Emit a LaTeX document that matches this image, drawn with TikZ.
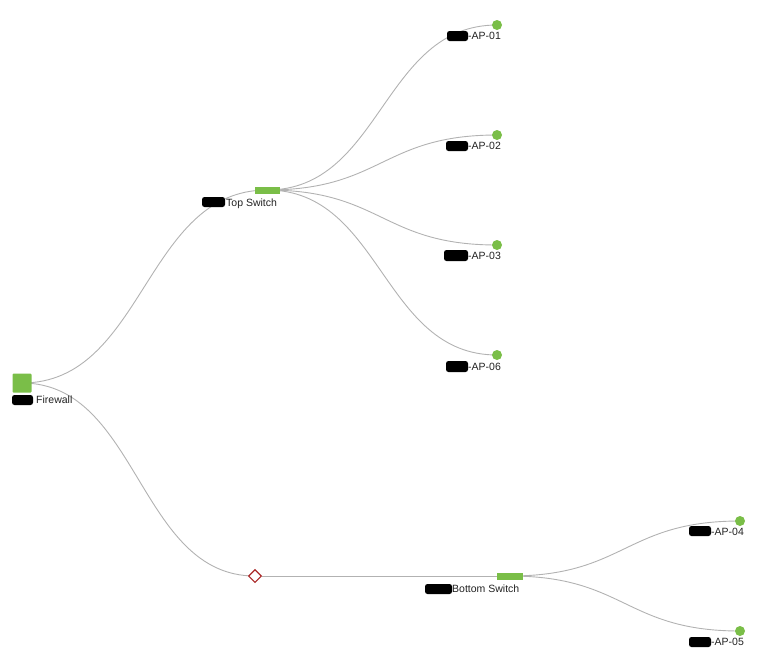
\documentclass[tikz,border=0pt]{standalone}
\usepackage{fontspec}
\setmainfont{Liberation Sans}
\usetikzlibrary{calc,backgrounds,shapes.geometric}
\definecolor{nodegreen}{RGB}{122,190,72}
\definecolor{linkgray}{RGB}{178,178,178}
\definecolor{diared}{RGB}{170,40,40}
\definecolor{txt}{RGB}{34,34,34}
\tikzset{
  link/.style={draw=linkgray,line width=0.9pt},
  fwbox/.style={fill=nodegreen,draw=none,minimum width=19pt,minimum height=19pt,inner sep=0pt,rectangle,rounded corners=1pt},
  swbox/.style={fill=nodegreen,draw=none,minimum width=25pt,minimum height=7pt,inner sep=0pt,rectangle},
  apdot/.style={fill=nodegreen,draw=none,circle,minimum size=10pt,inner sep=0pt},
  junction/.style={diamond,draw=diared,fill=white,line width=1.1pt,minimum width=13pt,minimum height=13pt,inner sep=0pt},
  lbl/.style={font=\fontsize{10.5}{12}\selectfont,text=txt,inner sep=0pt,anchor=base west},
  blob/.style={fill=black,rounded corners=2.5pt}
}
\newcommand\treelink[2]{%
  \draw[link] let \p1=(#1.center), \p2=(#2.center) in
    (\p1) .. controls ({(\x1+\x2)/2},\y1) and ({(\x1+\x2)/2},\y2) .. (\p2);}
\begin{document}
\begin{tikzpicture}[x=1pt,y=-1pt]
\useasboundingbox (0,0) rectangle (758,657);
% nodes
\node[fwbox] (fw) at (22,383) {};
\node[swbox] (ts) at (267,190) {};
\node[apdot] (ap1) at (497,25) {};
\node[apdot] (ap2) at (497,135) {};
\node[apdot] (ap3) at (497,245) {};
\node[apdot] (ap6) at (497,355) {};
\node[junction] (jn) at (255,576) {};
\node[swbox,minimum width=26pt] (bs) at (510,576) {};
\node[apdot] (ap4) at (740,521) {};
\node[apdot] (ap5) at (740,631) {};
% links
\begin{scope}[on background layer]
\treelink{fw}{ts}
\treelink{fw}{jn}
\treelink{ts}{ap1}
\treelink{ts}{ap2}
\treelink{ts}{ap3}
\treelink{ts}{ap6}
\draw[link] (jn) -- (bs.center);
\treelink{bs}{ap4}
\treelink{bs}{ap5}
\end{scope}
% redaction blobs
\fill[blob] (12,395) rectangle (33,405);
\fill[blob] (202,197) rectangle (225,207);
\fill[blob] (447,31) rectangle (468,41);
\fill[blob] (446,141) rectangle (468,151);
\fill[blob] (444,250) rectangle (468,261);
\fill[blob] (446,361) rectangle (468,372);
\fill[blob] (425,584) rectangle (452,594);
\fill[blob] (689,526) rectangle (711,536);
\fill[blob] (689,637) rectangle (711,647);
% labels
\node[lbl] (lfw) at (36,403) {Firewall};
\node[lbl] (lts) at (226,206) {Top Switch};
\node[lbl] (l1) at (468,39) {-AP-01};
\node[lbl] (l2) at (468,149) {-AP-02};
\node[lbl] (l3) at (468,259) {-AP-03};
\node[lbl] (l6) at (468,370) {-AP-06};
\node[lbl] (lbs) at (452,592) {Bottom Switch};
\node[lbl] (l4) at (711,535) {-AP-04};
\node[lbl] (l5) at (711,645) {-AP-05};
\end{tikzpicture}
\end{document}
